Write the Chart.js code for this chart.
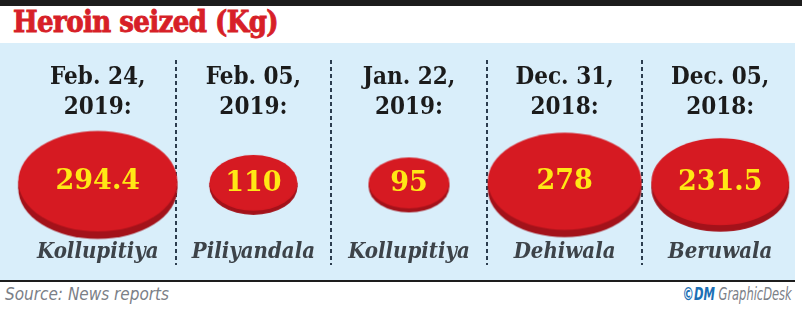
<!DOCTYPE html>
<html>
<head>
<meta charset="utf-8">
<script src="https://cdn.jsdelivr.net/npm/chart.js@4.4.1/dist/chart.umd.min.js"></script>
<style>
  html, body { margin: 0; padding: 0; background: #fff; }
  body { width: 810px; height: 312px; position: relative; overflow: hidden; }
  .topbar { position: absolute; left: 0; top: 0; width: 802px; height: 6px; background: #1d1d1d; }
  .title { position: absolute; left: 13px; top: 5px; font: bold 29px "DejaVu Serif Condensed", "DejaVu Serif", serif; color: #d71f28; -webkit-text-stroke: 0.8px #d71f28; letter-spacing: -0.6px; white-space: nowrap; }
  .panel { position: absolute; left: 0; top: 43px; width: 795px; height: 237px; background: #d9eefa; }
  .chart-box { position: absolute; left: 0; top: 43px; width: 810px; height: 237px; }
  .rule { position: absolute; left: 0; top: 280px; width: 795px; height: 2px; background: #1d1d1d; }
  .foot { position: absolute; top: 284px; font: italic 17px "Liberation Sans Narrow", "DejaVu Sans Condensed", sans-serif; color: #7b8087; white-space: nowrap; }
  .source { left: 5px; }
  .credit { right: 18px; transform: scaleX(0.75); transform-origin: right center; }
  .credit b { color: #1b6fb5; }
</style>
</head>
<body>
<div class="topbar"></div>
<div class="title">Heroin seized (Kg)</div>
<div class="panel"></div>
<div class="chart-box"><canvas id="chart" width="810" height="237"></canvas></div>
<div class="rule"></div>
<div class="foot source">Source: News reports</div>
<div class="foot credit"><b>©DM</b> GraphicDesk</div>
<script>
// data
const dates = [['Feb. 24,', '2019:'], ['Feb. 05,', '2019:'], ['Jan. 22,', '2019:'], ['Dec. 31,', '2018:'], ['Dec. 05,', '2018:']];
const places = ['Kollupitiya', 'Piliyandala', 'Kollupitiya', 'Dehiwala', 'Beruwala'];
const seizedKg = [294.4, 110, 95, 278, 231.5];

const SERIF = '"DejaVu Serif Condensed", "DejaVu Serif", serif';

// disc size from the value (kg)
function discSize(kg) {
  const w = 5.25 * Math.pow(kg, 0.6);
  const h = w * 0.68;
  const rim = Math.max(4, h * 0.07);
  return { w, h, rim };
}

// red 3d disc as point image
function makeDisc(kg) {
  const { w, h, rim } = discSize(kg);
  const c = document.createElement('canvas');
  c.width = Math.ceil(w) + 2;
  c.height = Math.ceil(h) + 2;
  const g = c.getContext('2d');
  const cx = c.width / 2, rx = w / 2, ry = (h - rim) / 2;
  const topY = c.height / 2 - rim / 2;
  g.fillStyle = '#a3121a';
  g.beginPath(); g.ellipse(cx, topY + rim, rx, ry, 0, 0, Math.PI * 2); g.fill();
  g.fillRect(cx - rx, topY, w, rim);
  g.fillStyle = '#d61a22';
  g.beginPath(); g.ellipse(cx, topY, rx, ry, 0, 0, Math.PI * 2); g.fill();
  return c;
}

const discs = seizedKg.map(makeDisc);

// dashed separators, not on the outer edges
const sepColor = c => (c.index === 0 || c.index === undefined) ? 'rgba(0,0,0,0)' : '#2c3d4f';

// yellow numbers on the discs
const valueLabels = {
  id: 'valueLabels',
  afterDatasetsDraw(chart) {
    const ctx = chart.ctx;
    const meta = chart.getDatasetMeta(0);
    ctx.save();
    ctx.font = 'bold 27px "DejaVu Serif", serif';
    ctx.fillStyle = '#ffe815';
    ctx.textAlign = 'center';
    ctx.textBaseline = 'middle';
    meta.data.forEach((pt, i) => {
      const d = discSize(seizedKg[i]);
      ctx.fillText(String(seizedKg[i]), pt.x, pt.y - d.rim / 2 + 1);
    });
    ctx.restore();
  }
};

new Chart(document.getElementById('chart'), {
  type: 'scatter',
  data: {
    labels: places,
    datasets: [{
      xAxisID: 'x',
      yAxisID: 'y',
      data: seizedKg.map((v, i) => ({ x: places[i], y: 0, kg: v })),
      pointStyle: c => discs[c.dataIndex],
      pointRadius: 10,
      clip: false,
    }]
  },
  options: {
    responsive: false,
    animation: false,
    events: [],
    layout: { padding: { left: 20, right: 12, top: 17, bottom: 15 } },
    plugins: { legend: { display: false }, tooltip: { enabled: false } },
    scales: {
      x: {
        type: 'category',
        position: 'bottom',
        offset: true,
        grid: { display: false, drawTicks: false },
        border: { display: false },
        ticks: { mirror: true, padding: 0, autoSkip: false, maxRotation: 0, color: '#3d4349',
                 font: { family: SERIF, weight: 'bold', style: 'italic', size: 22 } },
      },
      xTop: {
        type: 'category',
        position: 'top',
        labels: dates,
        offset: true,
        grid: { offset: true, color: sepColor, tickColor: 'rgba(0,0,0,0)', lineWidth: 2, tickLength: 54 },
        border: { display: false, dash: [4, 3] },
        ticks: { mirror: true, padding: -27, autoSkip: false, maxRotation: 0, color: '#1b1b1b',
                 font: { family: SERIF, weight: 'bold', size: 24, lineHeight: 1.25 } },
      },
      y: { display: false, min: -1, max: 1.56 },
    },
  },
  plugins: [valueLabels],
});
</script>
</body>
</html>
